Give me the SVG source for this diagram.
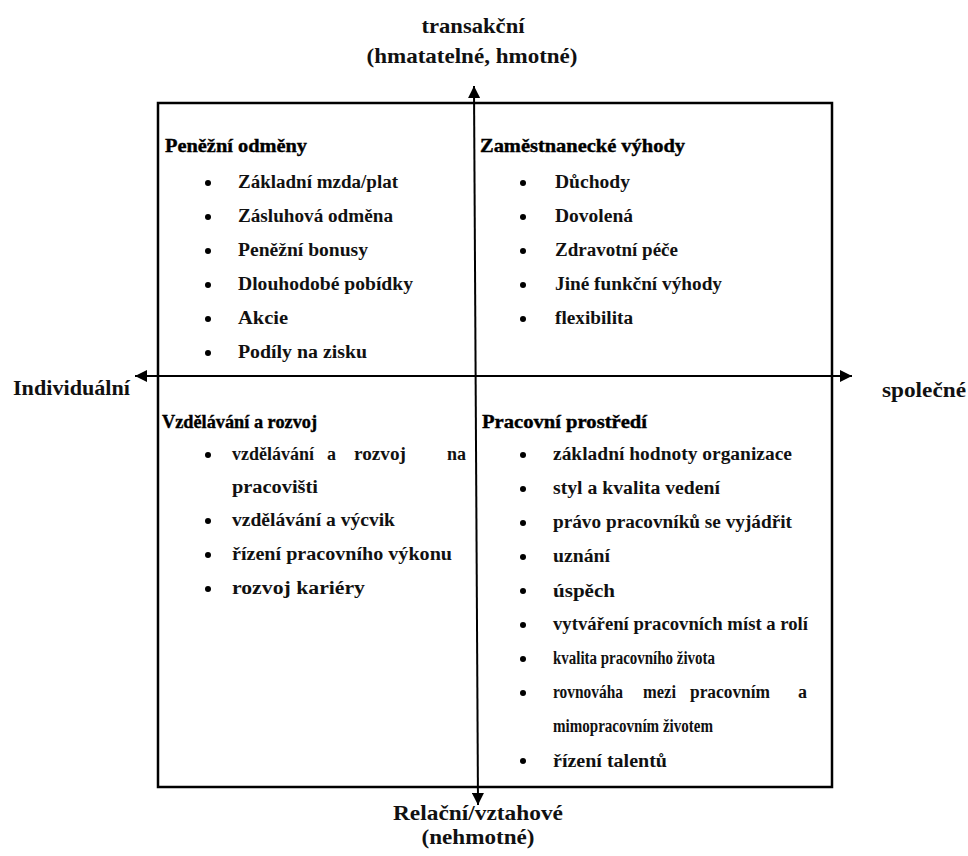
<svg xmlns="http://www.w3.org/2000/svg" width="968" height="856" viewBox="0 0 968 856">
<style>
text{font-family:"Liberation Serif","DejaVu Serif","Times New Roman",serif;fill:#111;font-weight:bold;}
.ax{font-size:21px;}
.hd{font-size:19px;stroke:#000;stroke-width:0.4;fill:#000;}
.it{font-size:18px;}
.ln{stroke:#000;fill:none;}
.dot{fill:#000;}
</style>
<defs>
<marker id="ah" viewBox="0 0 10 10" refX="10" refY="5" markerWidth="12" markerHeight="12" markerUnits="userSpaceOnUse" orient="auto-start-reverse">
<path d="M0,0 L10,5 L0,10 z" fill="#000"/>
</marker>
</defs>
<rect width="968" height="856" fill="#fff"/>
<g id="frame">
<rect class="ln" x="158" y="103" width="674" height="684" stroke-width="2.5"/>
</g>
<g id="connectors">
<line class="ln" x1="474" y1="86" x2="478" y2="805" stroke-width="2" marker-start="url(#ah)" marker-end="url(#ah)"/>
<line class="ln" x1="135" y1="376" x2="852" y2="376" stroke-width="2" marker-start="url(#ah)" marker-end="url(#ah)"/>
</g>
<g id="axis-top">
<text class="ax" x="473" y="33" text-anchor="middle" textLength="103" lengthAdjust="spacingAndGlyphs">transakční</text>
<text class="ax" x="472" y="63" text-anchor="middle" textLength="211" lengthAdjust="spacingAndGlyphs">(hmatatelné, hmotné)</text>
</g>
<g id="axis-left">
<text class="ax" x="13" y="395" textLength="117" lengthAdjust="spacingAndGlyphs">Individuální</text>
</g>
<g id="axis-right">
<text class="ax" x="882" y="397" textLength="84" lengthAdjust="spacingAndGlyphs">společné</text>
</g>
<g id="axis-bottom">
<text class="ax" x="478" y="820" text-anchor="middle" textLength="170" lengthAdjust="spacingAndGlyphs">Relační/vztahové</text>
<text class="ax" x="478" y="844" text-anchor="middle" textLength="113" lengthAdjust="spacingAndGlyphs">(nehmotné)</text>
</g>
<g id="q-penezni-odmeny">
<text class="hd" x="165" y="152" textLength="142" lengthAdjust="spacingAndGlyphs">Peněžní odměny</text>
<circle class="dot" cx="208" cy="183" r="3"/><text class="it" x="238" y="188" textLength="160" lengthAdjust="spacingAndGlyphs">Základní mzda/plat</text>
<circle class="dot" cx="208" cy="217" r="3"/><text class="it" x="238" y="222" textLength="155" lengthAdjust="spacingAndGlyphs">Zásluhová odměna</text>
<circle class="dot" cx="208" cy="251" r="3"/><text class="it" x="238" y="256" textLength="130" lengthAdjust="spacingAndGlyphs">Peněžní bonusy</text>
<circle class="dot" cx="208" cy="285" r="3"/><text class="it" x="238" y="290" textLength="175" lengthAdjust="spacingAndGlyphs">Dlouhodobé pobídky</text>
<circle class="dot" cx="208" cy="319" r="3"/><text class="it" x="238" y="324" textLength="50" lengthAdjust="spacingAndGlyphs">Akcie</text>
<circle class="dot" cx="208" cy="353" r="3"/><text class="it" x="238" y="358" textLength="129" lengthAdjust="spacingAndGlyphs">Podíly na zisku</text>
</g>
<g id="q-zamestnanecke-vyhody">
<text class="hd" x="480" y="152" textLength="205" lengthAdjust="spacingAndGlyphs">Zaměstnanecké výhody</text>
<circle class="dot" cx="523" cy="183" r="3"/><text class="it" x="555" y="188" textLength="75" lengthAdjust="spacingAndGlyphs">Důchody</text>
<circle class="dot" cx="523" cy="217" r="3"/><text class="it" x="555" y="222" textLength="78" lengthAdjust="spacingAndGlyphs">Dovolená</text>
<circle class="dot" cx="523" cy="251" r="3"/><text class="it" x="555" y="256" textLength="123" lengthAdjust="spacingAndGlyphs">Zdravotní péče</text>
<circle class="dot" cx="523" cy="285" r="3"/><text class="it" x="555" y="290" textLength="167" lengthAdjust="spacingAndGlyphs">Jiné funkční výhody</text>
<circle class="dot" cx="523" cy="319" r="3"/><text class="it" x="555" y="324" textLength="78" lengthAdjust="spacingAndGlyphs">flexibilita</text>
</g>
<g id="q-vzdelavani-a-rozvoj">
<text class="hd" x="162" y="428" textLength="155" lengthAdjust="spacingAndGlyphs">Vzdělávání a rozvoj</text>
<circle class="dot" cx="208" cy="455" r="3"/><text class="it" y="460"><tspan x="232" textLength="82" lengthAdjust="spacingAndGlyphs">vzdělávání</tspan><tspan x="327">a</tspan><tspan x="354" textLength="52" lengthAdjust="spacingAndGlyphs">rozvoj</tspan><tspan x="447">na</tspan></text>
<text class="it" x="232" y="493" textLength="86" lengthAdjust="spacingAndGlyphs">pracovišti</text>
<circle class="dot" cx="208" cy="521" r="3"/><text class="it" x="232" y="526" textLength="163" lengthAdjust="spacingAndGlyphs">vzdělávání a výcvik</text>
<circle class="dot" cx="208" cy="555" r="3"/><text class="it" x="232" y="560" textLength="220" lengthAdjust="spacingAndGlyphs">řízení pracovního výkonu</text>
<circle class="dot" cx="208" cy="589" r="3"/><text class="it" x="232" y="594" textLength="133" lengthAdjust="spacingAndGlyphs">rozvoj kariéry</text>
</g>
<g id="q-pracovni-prostredi">
<text class="hd" x="482" y="428" textLength="165" lengthAdjust="spacingAndGlyphs">Pracovní prostředí</text>
<circle class="dot" cx="523" cy="455" r="3"/><text class="it" x="553" y="460" textLength="239" lengthAdjust="spacingAndGlyphs">základní hodnoty organizace</text>
<circle class="dot" cx="523" cy="489" r="3"/><text class="it" x="553" y="494" textLength="167" lengthAdjust="spacingAndGlyphs">styl a kvalita vedení</text>
<circle class="dot" cx="523" cy="523" r="3"/><text class="it" x="553" y="528" textLength="239" lengthAdjust="spacingAndGlyphs">právo pracovníků se vyjádřit</text>
<circle class="dot" cx="523" cy="557" r="3"/><text class="it" x="553" y="562" textLength="57" lengthAdjust="spacingAndGlyphs">uznání</text>
<circle class="dot" cx="523" cy="591" r="3"/><text class="it" x="553" y="597" textLength="62" lengthAdjust="spacingAndGlyphs">úspěch</text>
<circle class="dot" cx="523" cy="625" r="3"/><text class="it" x="553" y="630" textLength="255" lengthAdjust="spacingAndGlyphs">vytváření pracovních míst a rolí</text>
<circle class="dot" cx="523" cy="659" r="3"/><text class="it" x="553" y="664" textLength="162" lengthAdjust="spacingAndGlyphs">kvalita pracovního života</text>
<circle class="dot" cx="523" cy="693" r="3"/><text class="it" y="698"><tspan x="553" textLength="70" lengthAdjust="spacingAndGlyphs">rovnováha</tspan><tspan x="643" textLength="33" lengthAdjust="spacingAndGlyphs">mezi</tspan><tspan x="690" textLength="80" lengthAdjust="spacingAndGlyphs">pracovním</tspan><tspan x="798">a</tspan></text>
<text class="it" x="553" y="732" textLength="160" lengthAdjust="spacingAndGlyphs">mimopracovním životem</text>
<circle class="dot" cx="523" cy="761" r="3"/><text class="it" x="553" y="767" textLength="114" lengthAdjust="spacingAndGlyphs">řízení talentů</text>
</g>
</svg>
